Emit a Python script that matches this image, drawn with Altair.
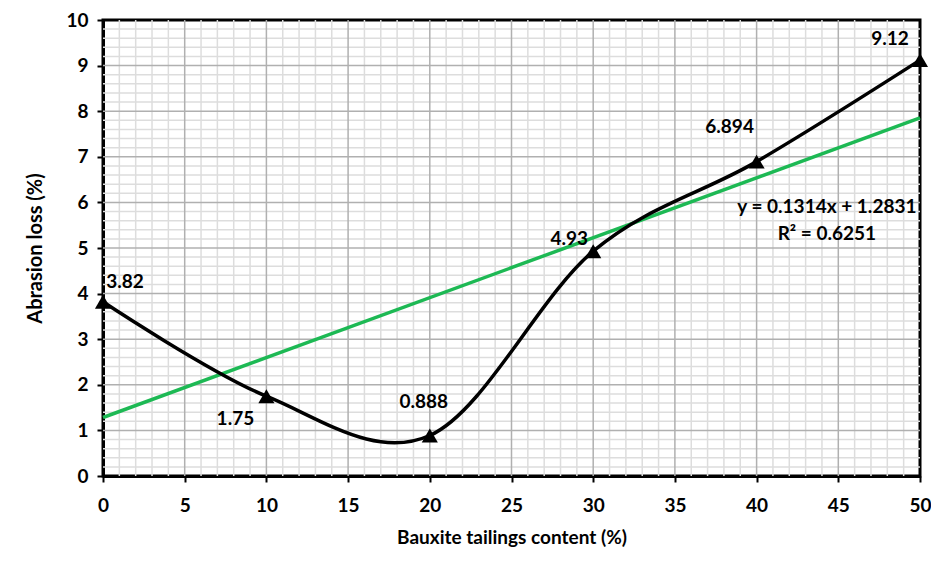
import altair as alt
import pandas as pd
import numpy as np

content = [0, 10, 20, 30, 40, 50]
abrasion = [3.82, 1.75, 0.888, 4.93, 6.894, 9.12]
point_labels = ["3.82", "1.75", "0.888", "4.93", "6.894", "9.12"]
slope = 0.1314
intercept = 1.2831
equation = "y = 0.1314x + 1.2831"
r2_text = "R² = 0.6251"

FONT = "Lato"
W, H = 817, 456

df = pd.DataFrame({"x": content, "y": abrasion, "label": point_labels})
trend = pd.DataFrame({"x": [0, 50], "y": [intercept, intercept + slope * 50]})

xs = alt.Scale(domain=[0, 50], nice=False, zero=False)
ys = alt.Scale(domain=[0, 10], nice=False, zero=False)

minor_x = pd.DataFrame({"v": [v for v in range(0, 51) if v % 5 != 0]})
major_x = pd.DataFrame({"v": list(range(5, 50, 5))})
minor_y = pd.DataFrame({"v": [round(v, 1) for v in np.arange(0, 10.01, 0.2) if abs(v - round(v)) > 1e-6]})
major_y = pd.DataFrame({"v": list(range(1, 10))})

gx_minor = alt.Chart(minor_x).mark_rule(color="#dddddd", strokeWidth=1.5).encode(x=alt.X("v:Q", scale=xs))
gy_minor = alt.Chart(minor_y).mark_rule(color="#dddddd", strokeWidth=1.5).encode(y=alt.Y("v:Q", scale=ys))
gx_major = alt.Chart(major_x).mark_rule(color="#b0b0b0", strokeWidth=1.5).encode(x=alt.X("v:Q", scale=xs))
gy_major = alt.Chart(major_y).mark_rule(color="#b0b0b0", strokeWidth=1.5).encode(y=alt.Y("v:Q", scale=ys))

base_x = alt.X("x:Q", scale=xs, axis=alt.Axis(
    title="Bauxite tailings content (%)", values=list(range(0, 51, 5)), grid=False, labelFlush=False,
    domainColor="black", domainWidth=3, tickColor="black", tickWidth=2, tickSize=6,
    labelFont=FONT, labelFontSize=19, labelFontWeight="bold", labelColor="black", labelPadding=14,
    titleFont=FONT, titleFontSize=19, titleFontWeight="bold", titleColor="black", titlePadding=13))
base_y = alt.Y("y:Q", scale=ys, axis=alt.Axis(
    title="Abrasion loss (%)", values=list(range(0, 11)), grid=False, labelFlush=False,
    domainColor="black", domainWidth=3, tickColor="black", tickWidth=2, tickSize=6,
    labelFont=FONT, labelFontSize=19, labelFontWeight="bold", labelColor="black", labelPadding=9,
    titleFont=FONT, titleFontSize=20, titleFontWeight="bold", titleColor="black", titlePadding=20))

trend_line = alt.Chart(trend).mark_line(color="#1db954", strokeWidth=3.5).encode(x=base_x, y=base_y)
curve = alt.Chart(df).mark_line(color="black", strokeWidth=3.5, interpolate="cardinal").encode(x="x:Q", y="y:Q")
points = alt.Chart(df).mark_point(shape="triangle-up", filled=True, color="black", size=260, opacity=1).encode(x="x:Q", y="y:Q")

offsets = [(22, -20), (-31, 23), (-6, -34), (-24, -12), (-27, -35), (-30, -21)]
texts = []
for i, (dx, dy) in enumerate(offsets):
    texts.append(alt.Chart(df.iloc[[i]]).mark_text(
        font=FONT, fontSize=19, fontWeight="bold", color="black", dx=dx, dy=dy
    ).encode(x="x:Q", y="y:Q", text="label:N"))

eq_df = pd.DataFrame({"x": [44.3, 44.3], "y": [5.89, 5.3], "t": [equation, r2_text]})
eq = alt.Chart(eq_df).mark_text(font=FONT, fontSize=19, fontWeight="bold", color="black").encode(
    x="x:Q", y="y:Q", text="t:N")

chart = alt.layer(
    gx_minor, gy_minor, gx_major, gy_major, trend_line, curve, points, *texts, eq
).properties(
    width=W, height=H, autosize=alt.AutoSizeParams(type="none"),
    padding={"left": 95, "top": 12, "right": 11, "bottom": 79}, background="white"
).configure_view(stroke="black", strokeWidth=3)

chart.save("out.html", embed_options={"renderer": "svg", "actions": False})
